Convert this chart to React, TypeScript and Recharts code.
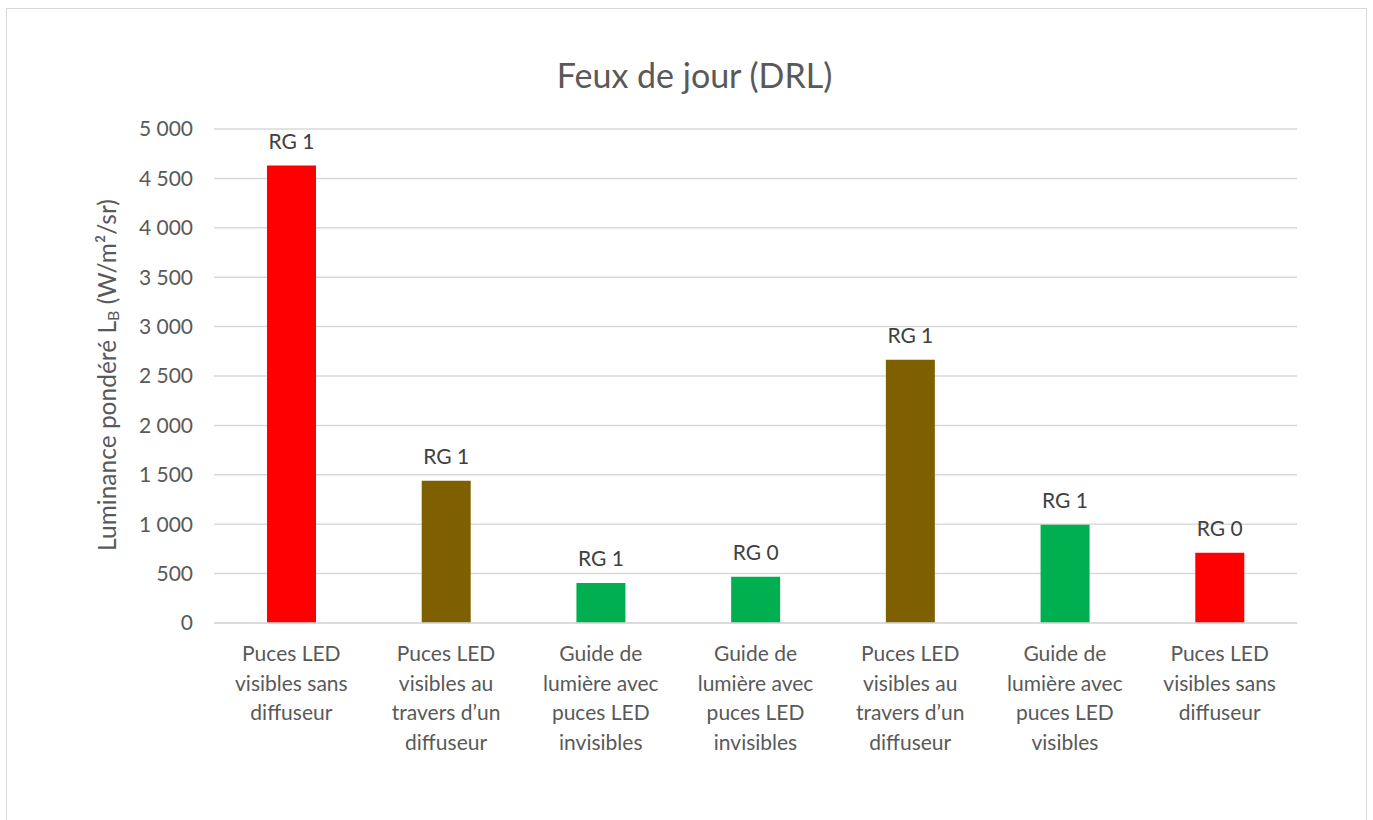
import React from "react";
import { BarChart, Bar, XAxis, YAxis, CartesianGrid, Cell, LabelList } from "recharts";

const CATEGORIES = [
  "Puces LED\nvisibles sans\ndiffuseur",
  "Puces LED\nvisibles au\ntravers d’un\ndiffuseur",
  "Guide de\nlumière avec\npuces LED\ninvisibles",
  "Guide de\nlumière avec\npuces LED\ninvisibles",
  "Puces LED\nvisibles au\ntravers d’un\ndiffuseur",
  "Guide de\nlumière avec\npuces LED\nvisibles",
  "Puces LED\nvisibles sans\ndiffuseur",
];
const LUMINANCE = [4630, 1440, 405, 467, 2665, 994, 710];
const RG_GROUPS = ["RG 1", "RG 1", "RG 1", "RG 0", "RG 1", "RG 1", "RG 0"];
const BAR_COLORS = ["#FF0000", "#7F6000", "#00B050", "#00B050", "#7F6000", "#00B050", "#FF0000"];
const Y_TICKS = [0, 500, 1000, 1500, 2000, 2500, 3000, 3500, 4000, 4500, 5000];

const FONT = "Lato, 'Open Sans', sans-serif";
const TEXT = "#595959";

const data = CATEGORIES.map((c, i) => ({
  name: c,
  value: LUMINANCE[i],
  rg: RG_GROUPS[i],
  color: BAR_COLORS[i],
}));

const fmt = (v: number) => (v >= 1000 ? `${Math.floor(v / 1000)} ${String(v % 1000).padStart(3, "0")}` : String(v));

// multi-line category label
function CategoryTick(props: any) {
  const { x, y, payload } = props;
  const lines = String(payload.value).split("\n");
  return (
    <text x={x} y={y} textAnchor="middle" fill={TEXT} fontSize={21} fontFamily={FONT}>
      {lines.map((l, i) => (
        <tspan key={i} x={x} dy={i === 0 ? 30 : 29.5}>
          {l}
        </tspan>
      ))}
    </text>
  );
}

function YLabel(props: any) {
  const { viewBox } = props;
  const cx = 99;
  const cy = viewBox.y + viewBox.height / 2 - 1;
  return (
    <text
      x={cx}
      y={cy}
      transform={`rotate(-90, ${cx}, ${cy})`}
      textAnchor="middle"
      dominantBaseline="central"
      fill={TEXT}
      fontSize={24.5}
      fontFamily={FONT}
    >
      Luminance pondéré L
      <tspan fontSize={16} dy={6}>B</tspan>
      <tspan dy={-6}> (W/m²/sr)</tspan>
    </text>
  );
}

export default function App() {
  return (
    <div
      style={{
        position: "absolute",
        left: 6,
        top: 8,
        width: 1359,
        height: 830,
        border: "1px solid #d9d9d9",
        background: "#fff",
        fontFamily: FONT,
      }}
    >
      <div
        style={{
          position: "absolute",
          top: 45,
          left: 8,
          width: "100%",
          textAlign: "center",
          fontSize: 34,
          color: TEXT,
          fontFamily: FONT,
        }}
      >
        Feux de jour (DRL)
      </div>
      <BarChart
        width={1359}
        height={812}
        data={data}
        margin={{ top: 120, right: 69, bottom: 68, left: 0 }}
        barCategoryGap={0}
      >
        <CartesianGrid vertical={false} stroke="#d9d9d9" strokeWidth={1.5} />
        <XAxis
          dataKey="name"
          axisLine={{ stroke: "#d9d9d9", strokeWidth: 1.5 }}
          tickLine={false}
          height={130}
          interval={0}
          tick={<CategoryTick />}
        />
        <YAxis
          width={207}
          domain={[0, 5000]}
          ticks={Y_TICKS}
          tickFormatter={fmt}
          axisLine={false}
          tickLine={false}
          tickSize={0}
          tickMargin={21}
          tick={{ fill: TEXT, fontSize: 21, fontFamily: FONT }}
          label={<YLabel />}
        />
        <Bar dataKey="value" barSize={49} isAnimationActive={false}>
          {data.map((d, i) => (
            <Cell key={i} fill={d.color} />
          ))}
          <LabelList dataKey="rg" position="top" offset={17} fill="#404040" fontSize={21} fontFamily={FONT} />
        </Bar>
      </BarChart>
    </div>
  );
}
